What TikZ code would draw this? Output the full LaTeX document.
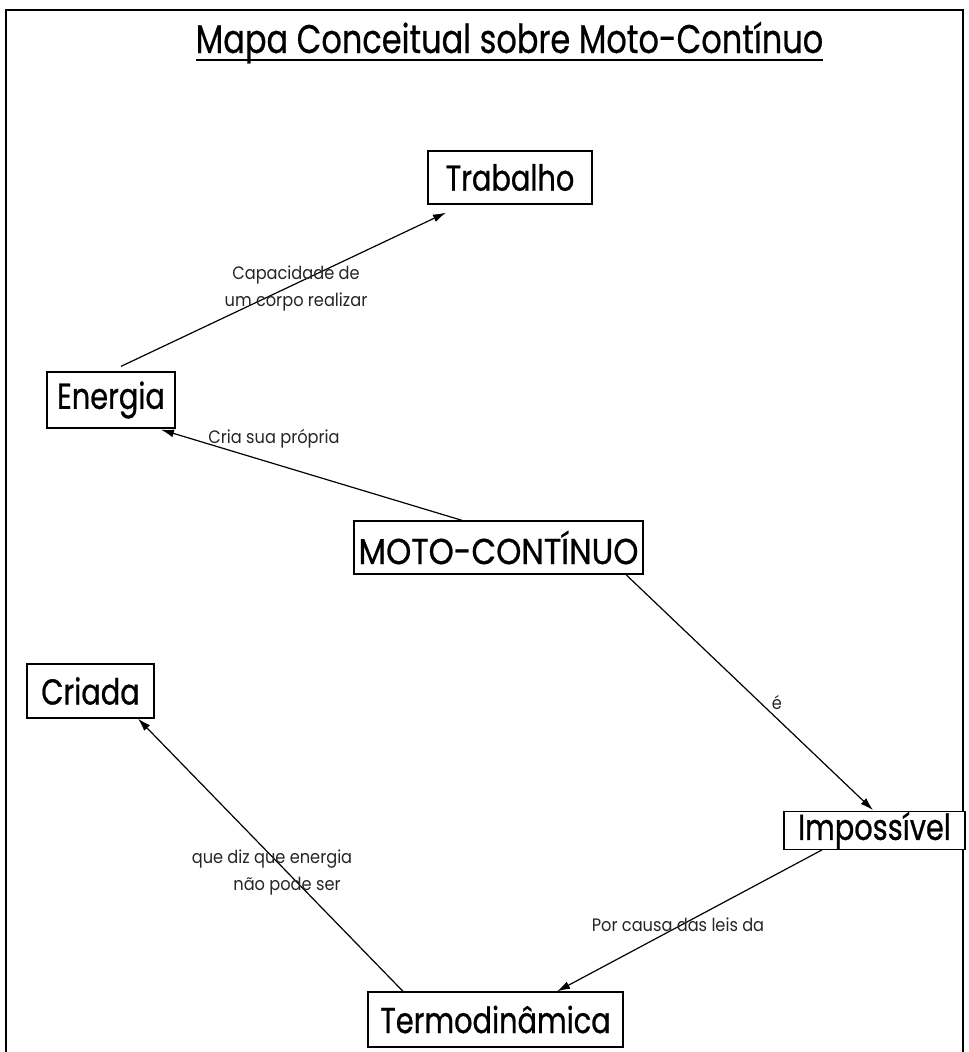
\documentclass[tikz,border=0pt]{standalone}
\usepackage{fontspec}
\setmainfont{Poppins}
\newfontfamily\boxfont[FakeStretch=0.8,FakeBold=0.7]{Poppins}
\newfontfamily\capsfont[FakeStretch=0.89,FakeBold=0.7]{Poppins}
\newfontfamily\linkfont[FakeStretch=0.9]{Poppins}
\newfontfamily\titlefont[FakeStretch=0.8,FakeBold=0.5]{Poppins}
\usetikzlibrary{arrows.meta}

\tikzset{
  concept/.style={draw=black, line width=1.3pt, inner sep=0pt, fill=white,
    font=\boxfont\fontsize{36}{40}\selectfont, text=black},
  link/.style={line width=1.2pt, -{Latex[length=13pt,width=8pt]}},
  linklabel/.style={font=\linkfont\fontsize{18}{27}\selectfont, text=black!85,
    align=center, inner sep=0pt},
  frame/.style={line width=2pt, line cap=rect}
}

\begin{document}
\begin{tikzpicture}[x=1pt, y=-1pt]
  \useasboundingbox (0,0) rectangle (969,1052);
  \fill[white] (0,0) rectangle (969,1052);

  % page frame (open at the bottom)
  \draw[frame] (6,1060) -- (6,10) -- (963,10) -- (963,1060);

  % title with underline
  \node[anchor=base, inner sep=0pt, font=\titlefont\fontsize{40}{46}\selectfont]
    (title) at (509.5,53) {Mapa Conceitual sobre Moto-Contínuo};
  \draw[line width=2.5pt] ([yshift=-7pt]title.base -| title.west) -- ([yshift=-7pt]title.base -| title.east);

  % concepts
  \node[concept, minimum width=164pt, minimum height=53pt] (trab) at (510,177.5) {Trabalho};
  \node[concept, minimum width=128pt, minimum height=56pt] (ener) at (111,400) {Energia};
  \node[concept, minimum width=289pt, minimum height=53pt,
        font=\capsfont\fontsize{36}{40}\selectfont] (moto) at (498.5,547.5) {MOTO-CONTÍNUO};
  \node[concept, minimum width=181pt, minimum height=35pt] (imp)  at (874.5,830.5) {Impossível};
  \node[concept, minimum width=127pt, minimum height=54pt] (cria) at (90.5,691) {Criada};
  \node[concept, minimum width=255pt, minimum height=55pt] (term) at (495.5,1019.5) {Termodinâmica};

  % links
  \draw[link] ([xshift=10pt,yshift=5pt]ener.north) -- ([xshift=-64pt,yshift=-8pt]trab.south);
  \draw[link] ([xshift=-36.5pt]moto.north) -- ([xshift=50pt,yshift=-1pt]ener.south);
  \draw[link] ([xshift=127.5pt]moto.south) -- ([xshift=-1.5pt,yshift=1pt]imp.north);
  \draw[link] ([xshift=-52.5pt]imp.south) -- ([xshift=61.5pt]term.north);
  \draw[link] ([xshift=-92.5pt]term.north) -- ([xshift=47.5pt]cria.south);

  % link phrases
  \node[linklabel] (l1) at (296,288) {Capacidade de\\um corpo realizar};
  \node[linklabel] (l2) at (274,439) {Cria sua própria};
  \node[linklabel] (l3) at (777,703) {é};
  \node[linklabel] (l4) at (678,925) {Por causa das leis da};
  \node[linklabel] (l5) at (272,872) {que diz que energia\\\hspace*{30pt}não pode ser};
\end{tikzpicture}
\end{document}
